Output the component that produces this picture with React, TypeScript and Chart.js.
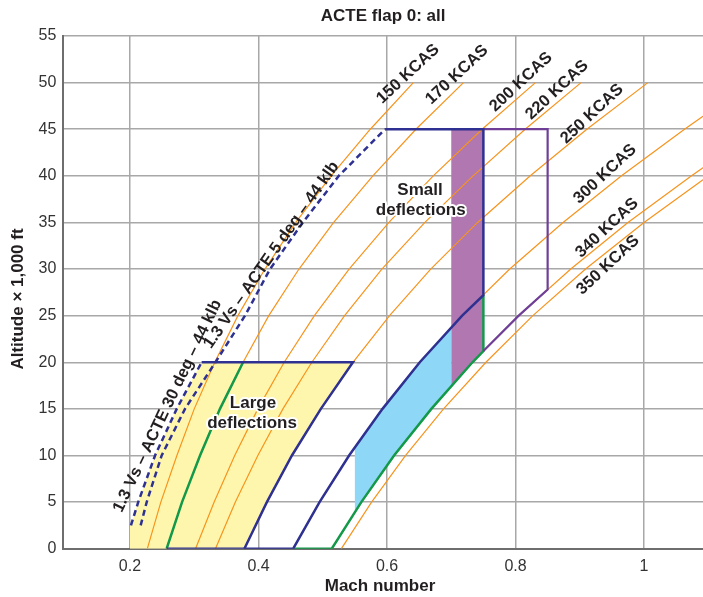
import React, { useEffect, useRef } from "react";
import { Chart, registerables } from "chart.js";

Chart.register(...registerables);

// ---------- data (Mach number vs altitude in 1,000 ft) ----------
const ALT = [0, 5, 10, 15, 20, 25, 30, 35, 40, 45, 50];

const KCAS_150 = [0.227, 0.248, 0.273, 0.300, 0.332, 0.368, 0.410, 0.458, 0.513, 0.574, 0.641];
const KCAS_170 = [0.257, 0.281, 0.309, 0.340, 0.376, 0.416, 0.463, 0.517, 0.578, 0.645, 0.719];
const KCAS_200 = [0.302, 0.331, 0.363, 0.399, 0.440, 0.487, 0.541, 0.603, 0.672, 0.748, 0.831];
const KCAS_220 = [0.333, 0.364, 0.399, 0.438, 0.483, 0.534, 0.592, 0.659, 0.734, 0.815, 0.902];
const KCAS_250 = [0.378, 0.413, 0.452, 0.497, 0.547, 0.604, 0.668, 0.741, 0.823, 0.911, 1.006];
const KCAS_300 = [0.454, 0.495, 0.541, 0.593, 0.651, 0.717, 0.791, 0.874, 0.965, 1.063, 1.167];
const KCAS_340 = [0.514, 0.560, 0.611, 0.669, 0.733, 0.805, 0.886, 0.975, 1.074, 1.178];
const KCAS_350 = [0.529, 0.576, 0.629, 0.688, 0.754, 0.827, 0.909, 1.000, 1.100];

const KCAS_LINES = [KCAS_150, KCAS_170, KCAS_200, KCAS_220, KCAS_250, KCAS_300, KCAS_340, KCAS_350];
const KCAS_NAMES = ["150 KCAS", "170 KCAS", "200 KCAS", "220 KCAS", "250 KCAS", "300 KCAS", "340 KCAS", "350 KCAS"];

// 1.3 Vs limits (dashed)
const VS30_ALT = [2.5, 5, 10, 15, 20];
const VS30_MACH = [0.2015, 0.2128, 0.239, 0.2727, 0.3115];
const VS5_ALT = [2.5, 5, 10, 15, 20, 25, 30, 35, 40, 45];
const VS5_MACH = [0.2166, 0.226, 0.2493, 0.2856, 0.333, 0.379, 0.418, 0.469, 0.525, 0.597];

// envelope boundaries
const LARGE_BOUND_MACH = [0.3115, 0.547, 0.497, 0.452, 0.413, 0.378];
const LARGE_BOUND_ALT = [20, 20, 15, 10, 5, 0];
const SMALL_BOUND_MACH = [0.257, 0.454, 0.495, 0.541, 0.593, 0.651, 0.717, 0.75, 0.75, 0.597];
const SMALL_BOUND_ALT = [0, 0, 5, 10, 15, 20, 25, 27.2, 45, 45];
const GREEN_LOW_MACH = [0.257, 0.281, 0.309, 0.340, 0.376];
const GREEN_LOW_ALT = [0, 5, 10, 15, 20];
const GREEN_HIGH_MACH = [0.454, 0.514, 0.560, 0.611, 0.669, 0.733, 0.75, 0.75];
const GREEN_HIGH_ALT = [0, 0, 5, 10, 15, 20, 21.2, 27.2];
const PURPLE_BOUND_MACH = [0.75, 0.805, 0.85, 0.85, 0.75];
const PURPLE_BOUND_ALT = [21.2, 25, 27.8, 45, 45];

// shaded regions
const YELLOW_MACH = [0.2, 0.2, 0.2015, 0.2128, 0.239, 0.2727, 0.3115, 0.547, 0.497, 0.452, 0.413, 0.378];
const YELLOW_ALT = [0, 2.5, 2.5, 5, 10, 15, 20, 20, 15, 10, 5, 0];
const CYAN_MACH = [0.55, 0.56, 0.611, 0.669, 0.7, 0.7, 0.651, 0.593, 0.55];
const CYAN_ALT = [3.9, 5, 10, 15, 17.4, 23.7, 20, 15, 10.9];
const PURPLE_FILL_MACH = [0.7, 0.733, 0.75, 0.75, 0.7];
const PURPLE_FILL_ALT = [17.4, 20, 21.2, 45, 45];

const X_TICKS = [0.2, 0.4, 0.6, 0.8, 1];
const X_TICK_LABELS = ["0.2", "0.4", "0.6", "0.8", "1"];
const Y_TICKS = [0, 5, 10, 15, 20, 25, 30, 35, 40, 45, 50, 55];
const Y_TICK_LABELS = ["0", "5", "10", "15", "20", "25", "30", "35", "40", "45", "50", "55"];

// ---------- annotation layout (data coordinates) ----------
const KCAS_LABEL_POS = [
  [0.6327, 50.93], [0.7089, 50.83], [0.8086, 50.07], [0.8646, 49.21],
  [0.9191, 46.64], [0.9393, 40.2], [0.9424, 34.41], [0.944, 30.44],
];

const FONT = '"Liberation Sans", Arial, Helvetica, sans-serif';
const TEXT = "#231f20";
const NAVY = "#2e3192";
const GREEN = "#13994a";
const PURPLE = "#6f3f98";
const ORANGE = "#f7941d";

const pts = (xs: number[], ys: number[]) => xs.map((x, i) => ({ x, y: ys[i] }));

const textPlugin = {
  id: "texts",
  afterDatasetsDraw(chart: any) {
    const { ctx, scales, chartArea } = chart;
    const X = (v: number) => scales.x.getPixelForValue(v);
    const Y = (v: number) => scales.y.getPixelForValue(v);
    const draw = (t: string, px: number, py: number, deg: number, font: string, halo = false) => {
      ctx.save();
      ctx.translate(px, py);
      ctx.rotate((deg * Math.PI) / 180);
      ctx.font = font;
      ctx.textAlign = "center";
      ctx.textBaseline = "middle";
      if (halo) {
        ctx.strokeStyle = "#ffffff";
        ctx.lineWidth = 4;
        ctx.lineJoin = "round";
        ctx.strokeText(t, 0, 0);
      }
      ctx.fillStyle = TEXT;
      ctx.fillText(t, 0, 0);
      ctx.restore();
    };
    const kfont = `bold 16.5px ${FONT}`;
    const bold17 = `bold 17px ${FONT}`;
    KCAS_NAMES.forEach((n, i) => {
      draw(n, X(KCAS_LABEL_POS[i][0]), Y(KCAS_LABEL_POS[i][1]), -43, kfont);
    });
    draw("1.3 Vs \u2013 ACTE 30 deg \u2013 44 klb", X(0.2584), Y(15.31), -64.6, `bold 16.5px ${FONT}`);
    draw("1.3 Vs \u2013 ACTE 5 deg \u2013 44 klb", X(0.4202), Y(31.51), -55, `bold 16.5px ${FONT}`);
    draw("Large", X(0.3914), Y(15.63), 0, bold17, true);
    draw("deflections", X(0.3899), Y(13.49), 0, bold17, true);
    draw("Small", X(0.6514), Y(38.41), 0, bold17, true);
    draw("deflections", X(0.6525), Y(36.27), 0, bold17, true);
    // titles
    draw("ACTE flap 0: all", (chartArea.left + chartArea.right) / 2, 16, 0, bold17);
    draw("Mach number", 380, 586, 0, bold17);
    draw("Altitude \u00d7 1,000 ft", 18, 299, -90, bold17);
  },
};

export default function App() {
  const ref = useRef<HTMLCanvasElement | null>(null);
  useEffect(() => {
    if (!ref.current) return;
    Chart.defaults.font.family = FONT;
    const line = (data: any[], color: string, width: number, order: number, extra: any = {}) => ({
      data,
      showLine: true,
      borderColor: color,
      borderWidth: width,
      pointRadius: 0,
      fill: false,
      order,
      ...extra,
    });
    const area = (data: any[], color: string) => ({
      data,
      showLine: true,
      borderColor: "rgba(0,0,0,0)",
      borderWidth: 0,
      backgroundColor: color,
      pointRadius: 0,
      fill: "shape",
      order: 5,
    });
    const datasets: any[] = [
      area(pts(YELLOW_MACH, YELLOW_ALT), "#fff6ad"),
      area(pts(CYAN_MACH, CYAN_ALT), "#8ed7f6"),
      area(pts(PURPLE_FILL_MACH, PURPLE_FILL_ALT), "#b077b0"),
      ...KCAS_LINES.map((m) => line(pts(m, ALT), ORANGE, 1.2, 4)),
      line(pts(VS30_MACH, VS30_ALT), NAVY, 2.5, 2, { borderDash: [6, 4] }),
      line(pts(VS5_MACH, VS5_ALT), NAVY, 2.5, 2, { borderDash: [6, 4] }),
      line(pts(GREEN_LOW_MACH, GREEN_LOW_ALT), GREEN, 2.5, 3),
      line(pts(GREEN_HIGH_MACH, GREEN_HIGH_ALT), GREEN, 2.5, 3),
      line(pts(PURPLE_BOUND_MACH, PURPLE_BOUND_ALT), PURPLE, 2.2, 2),
      line(pts(LARGE_BOUND_MACH, LARGE_BOUND_ALT), NAVY, 2.5, 1),
      line(pts(SMALL_BOUND_MACH, SMALL_BOUND_ALT), NAVY, 2.5, 1),
    ];
    const chart = new Chart(ref.current, {
      type: "scatter",
      data: { datasets },
      plugins: [textPlugin],
      options: {
        animation: false,
        responsive: false,
        events: [],
        layout: { padding: { top: 36, left: 0, right: 0, bottom: 0 } },
        plugins: { legend: { display: false }, tooltip: { enabled: false }, title: { display: false } },
        scales: {
          x: {
            type: "linear",
            min: 0.0962,
            max: 1.0918,
            afterBuildTicks: (s: any) => {
              s.ticks = X_TICKS.map((v) => ({ value: v }));
            },
            afterFit: (s: any) => {
              s.height = 48.3;
            },
            ticks: {
              callback: (v: any) => X_TICK_LABELS[X_TICKS.indexOf(Number(v))] ?? "",
              padding: 8,
              color: "#333333",
              font: { size: 16, family: FONT },
              maxRotation: 0,
              autoSkip: false,
            },
            grid: { color: "#a8a8a8", lineWidth: 1.5, drawTicks: false },
            border: { color: "#6e6e6e", width: 2 },
          },
          y: {
            type: "linear",
            min: 0,
            max: 55,
            afterBuildTicks: (s: any) => {
              s.ticks = Y_TICKS.map((v) => ({ value: v }));
            },
            afterFit: (s: any) => {
              s.width = 63.3;
            },
            ticks: {
              callback: (v: any) => Y_TICK_LABELS[Y_TICKS.indexOf(Number(v))] ?? "",
              padding: 7,
              color: "#333333",
              font: { size: 16, family: FONT },
              autoSkip: false,
            },
            grid: {
              color: (c: any) => (c.tick && c.tick.value === 0 ? "rgba(0,0,0,0)" : "#a8a8a8"),
              lineWidth: 1.5,
              drawTicks: false,
            },
            border: { color: "#6e6e6e", width: 2 },
          },
        },
      } as any,
    });
    return () => chart.destroy();
  }, []);
  return (
    <div style={{ position: "fixed", left: 0, top: 0, width: 703, height: 597, background: "#fff" }}>
      <canvas ref={ref} width={703} height={597} style={{ width: 703, height: 597, display: "block" }} />
    </div>
  );
}
